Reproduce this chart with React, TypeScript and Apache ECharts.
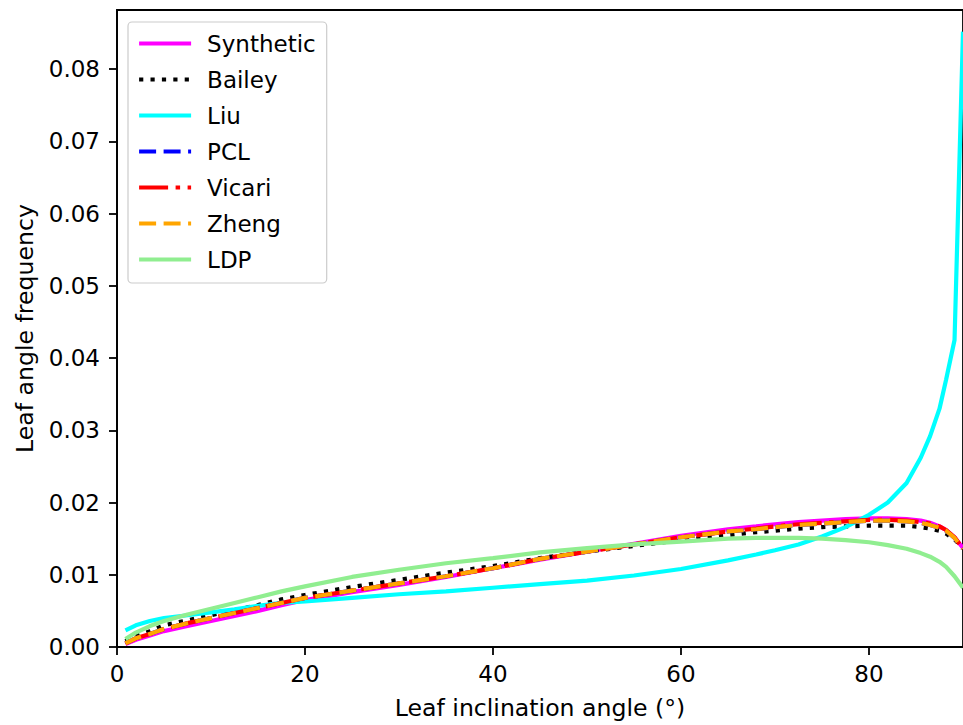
import React, { useEffect, useRef } from "react";
import * as echarts from "echarts";

// Leaf inclination angle (degrees) at which values were read
const angles = [0.9, 2, 3.5, 5, 7.5, 10, 12.5, 15, 17.5, 20, 25, 30, 35, 40, 45, 50, 55, 60, 65, 68, 70, 72.5, 75, 77.5, 80, 82, 84, 85.5, 86.5, 87.5, 88.2, 89.1, 90];

const synthetic = [0.0004, 0.0010, 0.0016, 0.0022, 0.0029, 0.0036, 0.0043, 0.0050, 0.0058, 0.0065, 0.0076, 0.0086, 0.0097, 0.0109, 0.0121, 0.0132, 0.0143, 0.0154, 0.0163, 0.0167, 0.0170, 0.0173, 0.0175, 0.0177, 0.0178, 0.0178, 0.0177, 0.0175, 0.0172, 0.0167, 0.0162, 0.0152, 0.0137];
const bailey = [0.0008, 0.0015, 0.0022, 0.0030, 0.0037, 0.0044, 0.0051, 0.0058, 0.0066, 0.0072, 0.0083, 0.0093, 0.0103, 0.0112, 0.0123, 0.0132, 0.0140, 0.0148, 0.0155, 0.0159, 0.0161, 0.0164, 0.0166, 0.0167, 0.0168, 0.0168, 0.0168, 0.0166, 0.0164, 0.0161, 0.0157, 0.0149, 0.0137];
const liu = [0.0023, 0.0030, 0.0036, 0.0040, 0.0044, 0.0048, 0.0052, 0.0057, 0.0061, 0.0063, 0.0068, 0.0073, 0.0077, 0.0082, 0.0087, 0.0092, 0.0099, 0.0108, 0.0120, 0.0128, 0.0134, 0.0142, 0.0153, 0.0166, 0.0183, 0.0200, 0.0227, 0.0262, 0.0292, 0.0330, 0.0370, 0.0425, 0.0852];
const pcl = [0.0005, 0.0012, 0.0018, 0.0025, 0.0033, 0.0040, 0.0047, 0.0054, 0.0061, 0.0068, 0.0078, 0.0088, 0.0098, 0.0109, 0.0122, 0.0132, 0.0142, 0.0152, 0.0160, 0.0163, 0.0166, 0.0169, 0.0171, 0.0173, 0.0175, 0.0175, 0.0174, 0.0172, 0.0169, 0.0165, 0.0161, 0.0151, 0.0136];
const vicari = [0.0005, 0.0012, 0.0018, 0.0025, 0.0033, 0.0040, 0.0047, 0.0054, 0.0061, 0.0068, 0.0078, 0.0088, 0.0098, 0.0109, 0.0122, 0.0132, 0.0142, 0.0152, 0.0160, 0.0164, 0.0167, 0.0170, 0.0172, 0.0174, 0.0176, 0.0176, 0.0175, 0.0173, 0.0171, 0.0167, 0.0162, 0.0152, 0.0136];
const zheng = [0.0005, 0.0012, 0.0018, 0.0025, 0.0033, 0.0040, 0.0047, 0.0054, 0.0061, 0.0068, 0.0078, 0.0088, 0.0098, 0.0109, 0.0122, 0.0132, 0.0142, 0.0152, 0.0160, 0.0163, 0.0166, 0.0169, 0.0171, 0.0173, 0.0175, 0.0175, 0.0174, 0.0172, 0.0169, 0.0165, 0.0161, 0.0151, 0.0136];
const ldp = [0.0011, 0.0020, 0.0029, 0.0036, 0.0045, 0.0053, 0.0061, 0.0069, 0.0077, 0.0084, 0.0097, 0.0107, 0.0116, 0.0123, 0.0131, 0.0137, 0.0142, 0.0146, 0.0150, 0.0151, 0.0151, 0.0151, 0.0150, 0.0148, 0.0145, 0.0141, 0.0136, 0.0130, 0.0125, 0.0118, 0.0111, 0.0098, 0.0082];

const xTicks = [0, 20, 40, 60, 80];
const yTicks = [0, 0.01, 0.02, 0.03, 0.04, 0.05, 0.06, 0.07, 0.08];

const FONT = "DejaVu Sans";
const LW = 4.2;

function pairs(values: number[]) {
  return angles.map((a, i) => [a, values[i]]);
}

export default function App() {
  const ref = useRef<HTMLDivElement>(null);

  useEffect(() => {
    if (!ref.current) return;
    const chart = echarts.init(ref.current, null, { renderer: "svg" });

    const mk = (name: string, values: number[], color: string, type: any) => ({
      name,
      type: "line",
      data: pairs(values),
      showSymbol: false,
      symbol: "none",
      smooth: false,
      lineStyle: { color, width: LW, type, cap: "butt" },
      itemStyle: { color },
      z: 2,
    });

    const axisText = { color: "#000", fontFamily: FONT, fontSize: 23 };
    const nameText = { color: "#000", fontFamily: FONT, fontSize: 23.6 };

    chart.setOption({
      animation: false,
      backgroundColor: "#fff",
      grid: {
        left: 117,
        right: 0,
        top: 10,
        bottom: 76,
        show: true,
        borderColor: "#000",
        borderWidth: 1.8,
        containLabel: false,
      },
      legend: {
        orient: "vertical",
        left: 128,
        top: 22,
        padding: [10, 11, 12, 9],
        itemWidth: 52,
        itemHeight: 22,
        itemGap: 13,
        borderColor: "#cccccc",
        borderWidth: 1.2,
        borderRadius: 4,
        backgroundColor: "rgba(255,255,255,0.8)",
        itemStyle: { opacity: 0, borderWidth: 0 },
        lineStyle: { width: LW, type: "inherit", cap: "butt" },
        textStyle: { color: "#000", fontFamily: FONT, fontSize: 23, lineHeight: 22, padding: [0, 0, 0, 11] },
        data: ["Synthetic", "Bailey", "Liu", "PCL", "Vicari", "Zheng", "LDP"],
      },
      xAxis: {
        type: "value",
        min: 0,
        max: 90,
        name: "Leaf inclination angle (°)",
        nameLocation: "middle",
        nameGap: 49,
        nameTextStyle: nameText,
        axisLine: { show: true, lineStyle: { color: "#000", width: 1.8 } },
        axisTick: { show: true, length: 8, lineStyle: { color: "#000", width: 1.8 }, customValues: xTicks },
        axisLabel: { ...axisText, margin: 15, customValues: xTicks, formatter: (v: number) => String(v) },
        splitLine: { show: false },
      },
      yAxis: {
        type: "value",
        min: 0,
        max: 0.0882,
        name: "Leaf angle frequency",
        nameLocation: "middle",
        nameGap: 80,
        nameTextStyle: nameText,
        axisLine: { show: true, lineStyle: { color: "#000", width: 1.8 } },
        axisTick: { show: true, length: 8, lineStyle: { color: "#000", width: 1.8 }, customValues: yTicks },
        axisLabel: { ...axisText, margin: 17, customValues: yTicks, formatter: (v: number) => v.toFixed(2) },
        splitLine: { show: false },
      },
      series: [
        mk("Synthetic", synthetic, "#ff00ff", "solid"),
        mk("Bailey", bailey, "#000000", [4.2, 7.2]),
        mk("Liu", liu, "#00ffff", "solid"),
        mk("PCL", pcl, "#0000ff", [17, 7.5]),
        mk("Vicari", vicari, "#ff0000", [29, 7.5, 4.5, 7.5]),
        mk("Zheng", zheng, "#ffa500", [17, 7.5]),
        mk("LDP", ldp, "#90ee90", "solid"),
      ],
    });

    return () => chart.dispose();
  }, []);

  return <div ref={ref} style={{ position: "absolute", left: 0, top: 0, width: 963, height: 725 }} />;
}
